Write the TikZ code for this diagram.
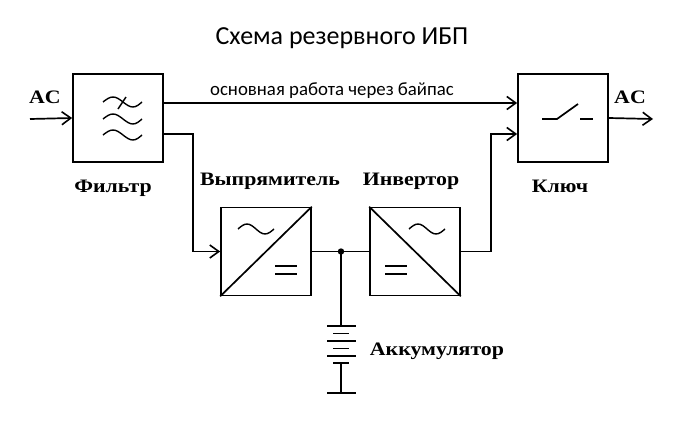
\documentclass[tikz,border=0pt]{standalone}
\usepackage{fontspec}
\setmainfont{Liberation Serif}
\newfontfamily\titlefont{Carlito}
\usetikzlibrary{arrows.meta}
\tikzset{
  wire/.style={line width=1.7pt},
  arr/.style={wire,-{Straight Barb[length=9pt,width=13pt,line width=1.6pt]}},
  box/.style={draw,line width=1.7pt,minimum width=90pt,minimum height=88pt,inner sep=0pt},
  lbl/.style={font=\fontsize{19}{19}\selectfont\bfseries,anchor=base,inner sep=0pt,xscale=1.15},
  ttl/.style={font=\titlefont\fontsize{26}{26}\selectfont,anchor=base,inner sep=0pt},
  sub/.style={font=\titlefont\fontsize{18.8}{18.8}\selectfont,anchor=base,inner sep=0pt},
}
\begin{document}
\begin{tikzpicture}[x=1pt,y=-1pt]
\useasboundingbox (0,0) rectangle (682,423);
% title
\node[ttl] (title) at (342,44) {Схема резервного ИБП};
\node[sub] (bypasstxt) at (332,95) {основная работа через байпас};
% boxes
\node[box] (filt) at (118,118) {};
\node[box] (key) at (563,118) {};
\node[box] (rect) at (266,251.5) {};
\node[box] (inv) at (415,251.5) {};
% labels
\node[lbl] (lfilt) at (113,192) {Фильтр};
\node[lbl] (lkey) at (560,192) {Ключ};
\node[lbl] (lrect) at (270,185) {Выпрямитель};
\node[lbl] (linv) at (411,185) {Инвертор};
\node[lbl] (lacin) at (45,103) {AC};
\node[lbl] (lacout) at (630,103) {AC};
\node[lbl] (lbat) at (437,355) {Аккумулятор};
% filter symbol
\foreach \yy in {102,119,135}{
  \draw[wire,line width=1.4pt] (103,\yy) sin (113,\yy-5) cos (123,\yy) sin (133,\yy+5) cos (142,\yy);
}
\draw[wire,line width=1.4pt] (118,109) -- (126,97);
% switch symbol
\draw[wire] (542,119) -- (557,119) -- (578,104);
\draw[wire] (580,119) -- (593,119);
% rectifier symbols
\draw[wire] (rect.south west) -- (rect.north east);
\draw[wire,line width=1.4pt] (238,229) sin (247,224) cos (256,229) sin (265,234) cos (274,229);
\draw[wire] (275,266) -- (297,266) (275,274) -- (297,274);
% inverter symbols
\draw[wire] (inv.north west) -- (inv.south east);
\draw[wire,line width=1.4pt] (409,229) sin (418,224) cos (427,229) sin (436,234) cos (445,229);
\draw[wire] (385,266) -- (407,266) (385,274) -- (407,274);
% connections
\coordinate (acin) at (30,119);
\coordinate (acout) at (653,119);
\coordinate (j) at (341,251.5);
\draw[arr] (acin) -- (filt.west);
\draw[arr] (key.east) -- (acout);
\draw[arr] ([yshift=15pt]filt.east) -- ([yshift=15pt]key.west);
\draw[arr] ([yshift=-16pt]filt.east) -- ++(29pt,0) |- (rect.west);
\draw[wire] (rect.east) -- (inv.west);
\draw[arr] (inv.east) -- ++(30pt,0) |- ([yshift=-16pt]key.west);
\fill (j) circle (3.2pt);
% battery
\coordinate (bt) at (341,326);
\coordinate (bb) at (341,393);
\draw[wire] (j) -- (bt);
\draw[wire] (327,326) -- (356,326);
\draw[wire] (333,333.5) -- (349,333.5);
\draw[wire] (327,341) -- (356,341);
\draw[wire] (333,348.5) -- (349,348.5);
\draw[wire] (327,356) -- (356,356);
\draw[wire] (333,363) -- (349,363);
\draw[wire] (341,363) -- (bb);
\draw[wire] (327,393) -- (356,393);
\end{tikzpicture}
\end{document}
